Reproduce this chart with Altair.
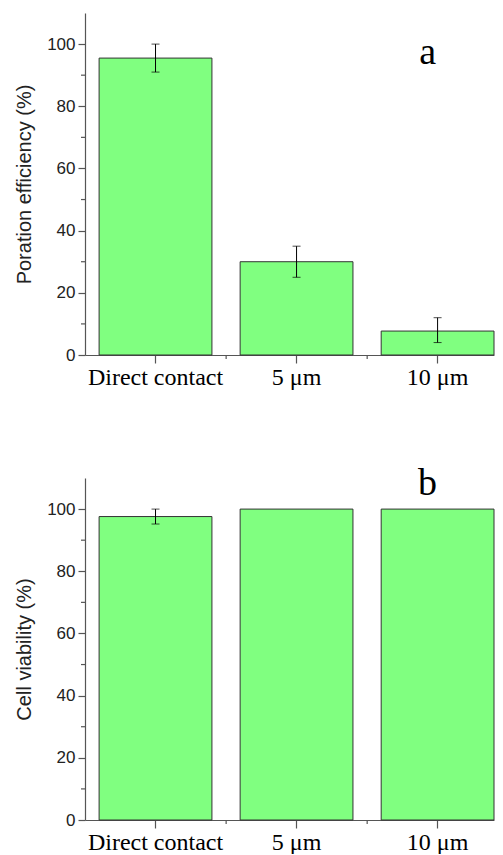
import altair as alt
import pandas as pd

categories = ["Direct contact", "5 μm", "10 μm"]

poration = [95.5, 30.0, 7.7]
poration_lo = [91.0, 25.0, 4.0]
poration_hi = [100.0, 35.0, 12.0]

viability = [97.6, 100.0, 100.0]
viability_err_cats = ["Direct contact"]
viability_lo = [95.2]
viability_hi = [100.0]

major_ticks = [0, 20, 40, 60, 80, 100]
minor_ticks = [10, 30, 50, 70, 90]

AXIS_COLOR = "#555555"
W, H = 409, 342


def panel(values, err_cats, lo, hi, ytitle, letter, letter_y):
    xenc_axis = alt.Axis(
        title=None, labelAngle=0, labelFont="Liberation Serif", labelFontSize=24,
        labelColor="#000000", tickSize=8, labelPadding=2, domainColor=AXIS_COLOR,
        tickColor=AXIS_COLOR, domainWidth=1.2, tickWidth=1.2,
    )
    yenc_axis = alt.Axis(
        values=major_ticks, title=ytitle, titleFont="Liberation Sans", titleFontSize=20,
        titleFontWeight="normal", titleColor="#222222", labelFont="Liberation Sans",
        labelFontSize=17, labelColor="#222222", tickSize=7, labelPadding=3,
        titlePadding=12, grid=False, domainColor=AXIS_COLOR, tickColor=AXIS_COLOR,
        domainWidth=1.2, tickWidth=1.2,
    )
    xscale = alt.Scale(domain=categories, paddingInner=0.2, paddingOuter=0.05, align=1)
    yscale = alt.Scale(domain=[0, 110], nice=False)

    def X():
        return alt.X("cat:N", sort=categories, scale=xscale, axis=xenc_axis)

    def Y():
        return alt.Y("v:Q", scale=yscale, axis=yenc_axis)

    bar_df = pd.DataFrame({"cat": categories, "v": values})
    err_df = pd.DataFrame({"cat": err_cats, "v": lo, "v2": hi})
    cap_df = pd.DataFrame({"cat": err_cats * 2, "v": lo + hi})
    minor_df = pd.DataFrame({"v": minor_ticks})
    xminor_df = pd.DataFrame({"cat": categories[1:]})
    letter_df = pd.DataFrame({"cat": [categories[-1]], "v": [letter_y], "t": [letter]})

    bars = alt.Chart(bar_df).mark_bar(
        color="#80FF80", stroke="#333333", strokeWidth=1
    ).encode(x=X(), y=Y())

    err = alt.Chart(err_df).mark_rule(color="#000000", strokeWidth=1).encode(
        x=X(), y=Y(), y2="v2:Q"
    )
    caps = alt.Chart(cap_df).mark_tick(color="#000000", size=8, thickness=1).encode(
        x=X(), y=Y()
    )
    yminor = alt.Chart(minor_df).mark_rule(color=AXIS_COLOR, strokeWidth=1.2).encode(
        y=Y(), x=alt.value(-4), x2=alt.value(0)
    )
    xminor = alt.Chart(xminor_df).mark_rule(
        color=AXIS_COLOR, strokeWidth=1.2, xOffset=-14
    ).encode(
        x=alt.X("cat:N", sort=categories, scale=xscale, axis=xenc_axis, bandPosition=0),
        y=alt.value(H), y2=alt.value(H + 4),
    )
    letter_mark = alt.Chart(letter_df).mark_text(
        font="Liberation Serif", fontSize=38, baseline="alphabetic", align="center",
        dx=-10, color="#000000"
    ).encode(x=X(), y=Y(), text="t:N")

    return alt.layer(bars, err, caps, yminor, xminor, letter_mark).properties(
        width=W, height=H
    )


top = panel(poration, categories, poration_lo, poration_hi,
            "Poration efficiency (%)", "a", 93.6)
bottom = panel(viability, viability_err_cats, viability_lo, viability_hi,
               "Cell viability (%)", "b", 104.5)

chart = alt.vconcat(top, bottom, spacing=76).properties(
    padding={"left": 6, "top": 5, "right": 0, "bottom": 0}
).configure_view(stroke=None)

chart.save("out.html", embed_options={"renderer": "svg", "actions": False})
